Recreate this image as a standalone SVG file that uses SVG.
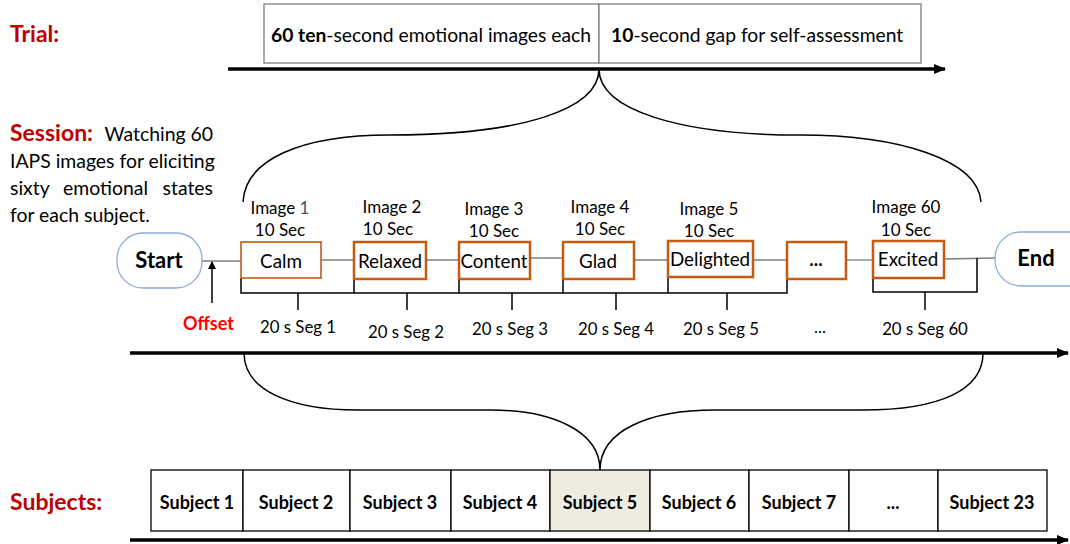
<svg xmlns="http://www.w3.org/2000/svg" width="1070" height="544" viewBox="0 0 1070 544">
<defs>
<marker id="ah" markerUnits="userSpaceOnUse" markerWidth="12" markerHeight="10" refX="11" refY="5" orient="auto"><path d="M0,0 L12,5 L0,10 Z" fill="#000"/></marker>
<marker id="ahs" markerUnits="userSpaceOnUse" markerWidth="8" markerHeight="8" refX="7" refY="4" orient="auto"><path d="M0,0 L8,4 L0,8 Z" fill="#000"/></marker>
<style>
text{font-family:Lato,"Open Sans","Liberation Sans",sans-serif;fill:#000}
.lbl{font-size:23px;font-weight:bold;fill:#C00000}
.trial{font-size:19.3px}
.sess{font-size:19.4px}
.img{font-size:17px;text-anchor:middle}
.box{font-size:18.8px;text-anchor:middle}
.seg{font-size:16.8px;text-anchor:middle}
.subj{font-size:18px;font-weight:bold;text-anchor:middle}
.obox{fill:#fff;stroke:#C55A11;stroke-width:2.5}
.tbox{fill:#fff;stroke:#7F7F7F;stroke-width:1.3}
.term{fill:#fff;stroke:#8FAADC;stroke-width:1.3}
.cell{fill:#fff;stroke:#000;stroke-width:1.3}
.gl{stroke:#7F7F7F;stroke-width:1.3;fill:none}
.bl{stroke:#000;stroke-width:1.5;fill:none}
.axis{stroke:#000;stroke-width:3.5;fill:none}
.brace{stroke:#000;stroke-width:1.5;fill:none}
</style>
</defs>
<rect width="1070" height="544" fill="#fff"/>

<g id="labels">
<text class="lbl" x="10" y="42">Trial:</text>
<text class="lbl" x="10" y="141">Session:</text>
<text class="sess" x="213" y="141" text-anchor="end">Watching 60</text>
<text class="sess" x="10" y="168">IAPS images for eliciting</text>
<text class="sess" x="10" y="195">sixty</text>
<text class="sess" x="63" y="195">emotional</text>
<text class="sess" x="213" y="195" text-anchor="end">states</text>
<text class="sess" x="10" y="222">for each subject.</text>
<text class="lbl" x="10" y="510">Subjects:</text>
<text x="183" y="330" style="font-size:18px;font-weight:bold;fill:#FF0000">Offset</text>
</g>

<g id="connectors">
<line class="axis" x1="228" y1="69" x2="945" y2="69" marker-end="url(#ah)"/>
<line class="axis" x1="130" y1="353" x2="1068" y2="353" marker-end="url(#ah)"/>
<line class="axis" x1="130" y1="540" x2="1068" y2="540" marker-end="url(#ah)"/>
<path class="brace" d="M243,202 C245,160 300,135 390,135 C520,135 599,110 599,69 C599,110 680,135 800,135 C900,135 978,160 981,202"/>
<path class="brace" d="M244,353 C244,390 290,410 358,410 L491,410 C550,410 600,430 600,470 C600,430 650,410 715,410 L863,410 C940,410 983,390 983,353"/>
<line class="gl" x1="202" y1="261" x2="241" y2="261"/>
<line class="gl" x1="321" y1="260" x2="354" y2="260"/>
<line class="gl" x1="426" y1="260" x2="459" y2="260"/>
<line class="gl" x1="530" y1="258" x2="563" y2="258"/>
<line class="gl" x1="634" y1="260" x2="668" y2="260"/>
<line class="gl" x1="753" y1="260" x2="787" y2="260"/>
<line class="gl" x1="846" y1="260" x2="873" y2="260"/>
<line class="gl" x1="944" y1="259" x2="995" y2="258"/>
<line x1="212" y1="303" x2="212" y2="262" stroke="#000" stroke-width="1.5" marker-end="url(#ahs)"/>
<path class="bl" d="M241,278 V293 H787 V279 M354,279 V293 M459,279 V293 M563,279 V293 M668,277 V293"/>
<path class="bl" d="M298,293 V310 M407,293 V310 M512,293 V310 M616,293 V310 M727,293 V310"/>
<path class="bl" d="M873,278 V292 H977 V258 M925,292 V310"/>
</g>

<g id="trial-image">
<rect class="tbox" x="264" y="4" width="335" height="59"/>
<text class="trial" x="271" y="42"><tspan font-weight="bold">60 ten</tspan>-second emotional images each</text>
</g>
<g id="trial-gap">
<rect class="tbox" x="599" y="4" width="322" height="59"/>
<text class="trial" x="611" y="42"><tspan font-weight="bold">10</tspan>-second gap for self-assessment</text>
</g>

<g id="start">
<rect class="term" x="117" y="233" width="85" height="55" rx="26"/>
<text x="159" y="268" style="font-size:22px;font-weight:bold;text-anchor:middle">Start</text>
</g>
<g id="end">
<rect class="term" x="995" y="232" width="100" height="54" rx="26"/>
<text x="1036" y="266" style="font-size:22px;font-weight:bold;text-anchor:middle">End</text>
</g>

<g id="img1">
<text class="img" x="280" y="214">Image <tspan fill="#44546A">1</tspan></text>
<text class="img" x="280" y="236">10 Sec</text>
<rect class="obox" x="241" y="242" width="80" height="36" style="stroke-width:1.6"/>
<text class="box" x="281" y="268">Calm</text>
</g>
<g id="img2">
<text class="img" x="392" y="213">Image 2</text>
<text class="img" x="388" y="235">10 Sec</text>
<rect class="obox" x="354" y="242" width="72" height="37"/>
<text class="box" x="390" y="268">Relaxed</text>
</g>
<g id="img3">
<text class="img" x="494" y="215">Image 3</text>
<text class="img" x="494" y="237">10 Sec</text>
<rect class="obox" x="459" y="242" width="71" height="37"/>
<text class="box" x="494" y="268">Content</text>
</g>
<g id="img4">
<text class="img" x="600" y="213">Image 4</text>
<text class="img" x="600" y="235">10 Sec</text>
<rect class="obox" x="563" y="242" width="71" height="37"/>
<text class="box" x="598" y="268">Glad</text>
</g>
<g id="img5">
<text class="img" x="709" y="215">Image 5</text>
<text class="img" x="709" y="237">10 Sec</text>
<rect class="obox" x="668" y="241" width="85" height="36"/>
<text class="box" x="710" y="266">Delighted</text>
</g>
<g id="img-more">
<rect class="obox" x="787" y="242" width="59" height="37"/>
<text class="box" x="816" y="266" style="font-weight:bold">...</text>
</g>
<g id="img60">
<text class="img" x="906" y="213">Image 60</text>
<text class="img" x="906" y="236">10 Sec</text>
<rect class="obox" x="873" y="241" width="71" height="37"/>
<text class="box" x="908" y="266">Excited</text>
</g>

<g id="segments">
<text class="seg" x="298" y="333">20 s Seg 1</text>
<text class="seg" x="406" y="338">20 s Seg 2</text>
<text class="seg" x="510" y="335">20 s Seg 3</text>
<text class="seg" x="616" y="335">20 s Seg 4</text>
<text class="seg" x="721" y="335">20 s Seg 5</text>
<text class="seg" x="820" y="333">...</text>
<text class="seg" x="925" y="335">20 s Seg 60</text>
</g>

<g id="subjects">
<g id="subject1"><rect class="cell" x="151" y="470" width="92" height="61"/><text class="subj" x="197" y="509">Subject 1</text></g>
<g id="subject2"><rect class="cell" x="243" y="470" width="107" height="61"/><text class="subj" x="296" y="509">Subject 2</text></g>
<g id="subject3"><rect class="cell" x="350" y="470" width="101" height="61"/><text class="subj" x="400" y="509">Subject 3</text></g>
<g id="subject4"><rect class="cell" x="451" y="470" width="99" height="61"/><text class="subj" x="500" y="509">Subject 4</text></g>
<g id="subject5"><rect class="cell" x="550" y="470" width="100" height="61" style="fill:#EEECE1"/><text class="subj" x="600" y="509">Subject 5</text></g>
<g id="subject6"><rect class="cell" x="650" y="470" width="99" height="61"/><text class="subj" x="699" y="509">Subject 6</text></g>
<g id="subject7"><rect class="cell" x="749" y="470" width="100" height="61"/><text class="subj" x="799" y="509">Subject 7</text></g>
<g id="subject-more"><rect class="cell" x="849" y="470" width="89" height="61"/><text class="subj" x="893" y="509">...</text></g>
<g id="subject23"><rect class="cell" x="938" y="470" width="109" height="61"/><text class="subj" x="992" y="509">Subject 23</text></g>
</g>
</svg>
